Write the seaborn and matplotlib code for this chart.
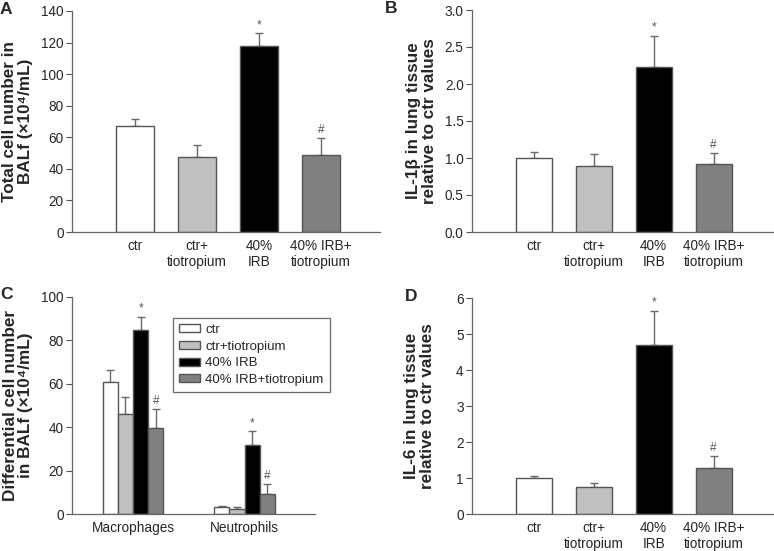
import numpy as np
import pandas as pd
import matplotlib
matplotlib.use("Agg")
import matplotlib.pyplot as plt
import seaborn as sns

# --- data ---
groups = ["ctr", "ctr+\ntiotropium", "40%\nIRB", "40% IRB+\ntiotropium"]
legend_names = ["ctr", "ctr+tiotropium", "40% IRB", "40% IRB+tiotropium"]
bar_colors = ["#ffffff", "#c0c0c0", "#000000", "#808080"]

total_mean = [67, 47.5, 118, 48.5]
total_err = [4.5, 7.5, 8, 11]
total_marks = ["", "", "*", "#"]

il1b_mean = [1.0, 0.89, 2.23, 0.92]
il1b_err = [0.08, 0.16, 0.42, 0.15]
il1b_marks = ["", "", "*", "#"]

cell_types = ["Macrophages", "Neutrophils"]
diff_mean = {"ctr": [61, 3.2], "ctr+tiotropium": [46, 2.2],
             "40% IRB": [85, 32], "40% IRB+tiotropium": [39.5, 9]}
diff_err = {"ctr": [5.5, 0.6], "ctr+tiotropium": [8, 0.8],
            "40% IRB": [6, 6.2], "40% IRB+tiotropium": [9, 4.8]}
diff_marks = {"ctr": ["", ""], "ctr+tiotropium": ["", ""],
              "40% IRB": ["*", "*"], "40% IRB+tiotropium": ["#", "#"]}

il6_mean = [1.0, 0.75, 4.7, 1.27]
il6_err = [0.05, 0.11, 0.95, 0.33]
il6_marks = ["", "", "*", "#"]

sns.set_style("ticks")
plt.rcParams["font.family"] = ["Liberation Sans", "DejaVu Sans"]

EDGE = "#555555"
ERR = "#6a6a6a"


def style_axis(ax, ylim, yticks, fmt, ylabel, label_x):
    ax.set_ylim(*ylim)
    ax.set_yticks(yticks)
    ax.set_yticklabels([fmt.format(t) for t in yticks], fontsize=9.8)
    ax.tick_params(axis="y", length=4, width=0.8, color="#555555", pad=2)
    ax.tick_params(axis="x", length=0, pad=5, labelsize=9.8)
    for t in ax.get_xticklabels():
        t.set_linespacing(1.15)
    for s in ["top", "right"]:
        ax.spines[s].set_visible(False)
    for s in ["left", "bottom"]:
        ax.spines[s].set_color("#666666")
        ax.spines[s].set_linewidth(0.9)
    ax.set_xlabel("")
    ax.set_ylabel(ylabel, fontsize=12.3, fontweight="bold", linespacing=1.05)
    ax.yaxis.set_label_coords(label_x, 0.5)


def add_errors(ax, means, errs, marks):
    bars = [p for c in ax.containers
            if isinstance(c, matplotlib.container.BarContainer) for p in c]
    bars = sorted(bars, key=lambda p: p.get_x())
    xs = [p.get_x() + p.get_width() / 2 for p in bars]
    ax.errorbar(xs, means, yerr=[np.zeros(len(errs)), errs], fmt="none",
                ecolor=ERR, elinewidth=1, capsize=3, capthick=1, zorder=1)
    for x, m, e, t in zip(xs, means, errs, marks):
        if t:
            ax.annotate(t, (x, m + e), xytext=(0, 1.5), textcoords="offset points",
                        ha="center", va="bottom", fontsize=8.5, color="#555555")


def simple_panel(ax, means, errs, marks):
    df = pd.DataFrame({"group": groups, "value": means})
    sns.barplot(data=df, x="group", y="value", hue="group", order=groups,
                hue_order=groups, palette=bar_colors, legend=False, width=0.6,
                edgecolor=EDGE, linewidth=1, errorbar=None, ax=ax, zorder=2)
    add_errors(ax, means, errs, marks)


W, H = 774, 551
fig = plt.figure(figsize=(W / 100, H / 100), dpi=100)

axA = fig.add_axes([72 / W, 1 - 232 / H, 308 / W, 221 / H])
axB = fig.add_axes([472 / W, 1 - 232 / H, 301 / W, 222 / H])
axC = fig.add_axes([72 / W, 1 - 514 / H, 243 / W, 217 / H])
axD = fig.add_axes([472 / W, 1 - 514 / H, 301 / W, 216 / H])

# A
simple_panel(axA, total_mean, total_err, total_marks)
axA.set_xlim(-1.016, 3.95)
style_axis(axA, (0, 140), np.arange(0, 141, 20), "{:.0f}",
           "Total cell number in\nBALf (\u00d710\u2074/mL)", -0.127)

# B
simple_panel(axB, il1b_mean, il1b_err, il1b_marks)
axB.set_xlim(-1.03, 3.99)
style_axis(axB, (0, 3.0), np.arange(0, 3.01, 0.5), "{:.1f}",
           "IL-1\u03b2 in lung tissue\nrelative to ctr values", -0.116)

# C
rows = []
for name in legend_names:
    for ct, v in zip(cell_types, diff_mean[name]):
        rows.append({"cell": ct, "group": name, "value": v})
dfc = pd.DataFrame(rows)
sns.barplot(data=dfc, x="cell", y="value", hue="group", order=cell_types,
            hue_order=legend_names, palette=bar_colors, width=0.545, gap=0,
            edgecolor=EDGE, linewidth=1, errorbar=None, ax=axC, zorder=2)
c_means, c_errs, c_marks = [], [], []
for i in range(len(cell_types)):
    for name in legend_names:
        c_means.append(diff_mean[name][i])
        c_errs.append(diff_err[name][i])
        c_marks.append(diff_marks[name][i])
add_errors(axC, c_means, c_errs, c_marks)
axC.set_xlim(-0.547, 1.632)
style_axis(axC, (0, 100), np.arange(0, 101, 20), "{:.0f}",
           "Differential cell number\nin BALf (\u00d710\u2074/mL)", -0.16)
sns.move_legend(axC, loc="upper left", bbox_to_anchor=(0.416, 0.903),
                borderaxespad=0, title=None, frameon=True, fancybox=False,
                fontsize=9.5, handlelength=1.6, handleheight=0.55,
                labelspacing=0.35, borderpad=0.45, handletextpad=0.4)
leg = axC.get_legend()
leg.get_frame().set_edgecolor("#444444")
leg.get_frame().set_linewidth(0.9)

# D
simple_panel(axD, il6_mean, il6_err, il6_marks)
axD.set_xlim(-1.03, 3.99)
style_axis(axD, (0, 6), np.arange(0, 7, 1), "{:.0f}",
           "IL-6 in lung tissue\nrelative to ctr values", -0.123)

for lbl, x, y in [("A", 0.0, 1 - 2 / H), ("B", 385 / W, 1 - 1 / H),
                  ("C", 0.0, 1 - 287 / H), ("D", 405 / W, 1 - 289 / H)]:
    fig.text(x, y, lbl, fontsize=12.5, fontweight="bold", va="top", ha="left")

fig.savefig("out.png", dpi=100)
